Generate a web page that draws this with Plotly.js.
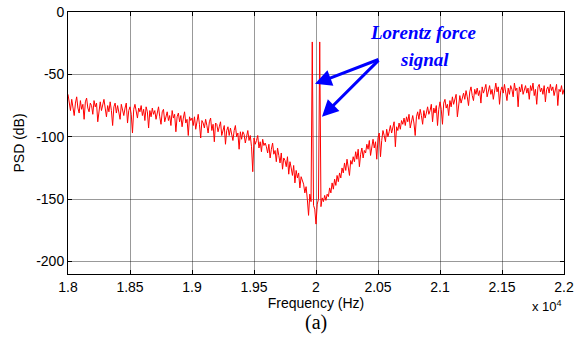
<!DOCTYPE html>
<html>
<head>
<meta charset="utf-8">
<script src="https://cdn.plot.ly/plotly-3.0.1.min.js"></script>
<style>html,body{margin:0;padding:0;background:#fff;}#chart{width:582px;height:348px;}</style>
</head>
<body>
<div id="chart"></div>
<script>
// Frequency grid (Hz)
const freqStart = 18000;
const freqStep = 10;
// PSD values (dB), one row per 100 Hz
const psd = [
-66,-72,-79,-70,-76,-83,-73,-68,-77,-81,
-71,-78,-74,-86,-72,-69,-77,-80,-73,-75,
-82,-71,-76,-73,-88,-78,-72,-79,-74,-70,
-77,-84,-75,-80,-72,-79,-91,-76,-73,-81,
-75,-80,-86,-74,-78,-83,-77,-73,-89,-79,
-76,-82,-97,-78,-74,-81,-85,-77,-80,-75,
-83,-78,-87,-76,-80,-93,-79,-84,-77,-82,
-79,-86,-81,-76,-84,-90,-80,-78,-88,-83,
-80,-87,-83,-91,-79,-85,-82,-96,-84,-81,
-88,-83,-92,-85,-80,-89,-86,-99,-84,-87,
-85,-91,-84,-94,-88,-82,-90,-101,-87,-89,
-93,-86,-91,-97,-88,-85,-95,-90,-104,-89,
-90,-96,-92,-88,-99,-94,-91,-106,-95,-92,
-99,-93,-97,-103,-95,-91,-100,-97,-110,-96,
-102,-96,-98,-105,-100,-95,-103,-99,-108,-128,
-101,-106,-103,-99,-109,-104,-112,-102,-107,-105,
-108,-113,-106,-117,-110,-105,-114,-111,-120,-109,
-115,-121,-113,-126,-117,-119,-124,-116,-130,-120,
-125,-131,-123,-137,-127,-133,-129,-141,-132,-136,
-138,-145,-140,-150,-163,-146,-152,-24,-155,-158,
-170,-154,-150,-24,-156,-149,-152,-147,-151,-146,
-148,-141,-145,-137,-142,-134,-139,-131,-136,-129,
-133,-125,-129,-121,-127,-118,-124,-131,-119,-122,
-116,-120,-112,-118,-110,-124,-114,-109,-117,-111,
-113,-106,-110,-103,-115,-107,-102,-109,-104,-118,
-101,-97,-116,-103,-95,-99,-104,-94,-100,-96,
-91,-97,-93,-88,-108,-92,-95,-89,-94,-87,
-90,-85,-91,-84,-88,-82,-93,-86,-83,-89,
-99,-84,-80,-86,-78,-83,-90,-79,-85,-81,
-76,-82,-79,-74,-88,-77,-81,-75,-91,-78,
-72,-78,-90,-73,-70,-77,-74,-83,-71,-76,
-68,-74,-70,-66,-84,-72,-67,-73,-69,-65,
-70,-63,-68,-75,-64,-60,-67,-71,-62,-66,
-61,-67,-63,-73,-60,-65,-62,-58,-68,-64,
-59,-66,-62,-70,-61,-57,-64,-60,-74,-63,
-60,-65,-58,-63,-71,-61,-66,-59,-62,-68,
-57,-63,-61,-76,-60,-64,-58,-66,-62,-59,
-65,-61,-70,-59,-63,-57,-67,-62,-74,-60,
-58,-64,-61,-66,-59,-72,-62,-60,-65,-58,
-63,-60,-67,-61,-58,-75,-62,-64,-59,-66,
-62
];
const freq = psd.map((v, i) => freqStart + i * freqStep);

const xTickVals = [18000, 18500, 19000, 19500, 20000, 20500, 21000, 21500, 22000];
const xTickText = ['1.8', '1.85', '1.9', '1.95', '2', '2.05', '2.1', '2.15', '2.2'];
const yTickVals = [0, -50, -100, -150, -200];
const yTickText = ['0', '-50', '-100', '-150', '-200'];

const trace = {
  x: freq, y: psd, type: 'scatter', mode: 'lines',
  line: {color: '#ff0000', width: 1}, hoverinfo: 'none'
};

const axisCommon = {
  showline: true, linecolor: '#000', linewidth: 1, mirror: 'ticks',
  ticks: 'inside', ticklen: 4, tickcolor: '#000',
  showgrid: true, gridcolor: 'rgba(0,0,0,0.4)', gridwidth: 1,
  zeroline: false,
  tickfont: {family: 'Liberation Sans, Arial, sans-serif', size: 14, color: '#000'}
};

const layout = {
  width: 582, height: 348,
  margin: {l: 68, r: 18, t: 12, b: 74},
  paper_bgcolor: '#fff', plot_bgcolor: '#fff',
  showlegend: false,
  xaxis: Object.assign({}, axisCommon, {
    range: [18000, 22000], tickvals: xTickVals, ticktext: xTickText,
    title: {text: 'Frequency (Hz)', standoff: 2, font: {family: 'Liberation Sans, Arial, sans-serif', size: 14, color: '#000'}}
  }),
  yaxis: Object.assign({}, axisCommon, {
    range: [-210, 0], tickvals: yTickVals, ticktext: yTickText,
    title: {text: 'PSD (dB)', standoff: 8, font: {family: 'Liberation Sans, Arial, sans-serif', size: 14, color: '#000'}}
  }),
  annotations: [
    {x: 19992, y: -57.6, ax: 20516, ay: -37.6, axref: 'x', ayref: 'y', xref: 'x', yref: 'y',
     showarrow: true, arrowhead: 2, arrowsize: 1.1, arrowwidth: 3, arrowcolor: '#0000ff', text: ''},
    {x: 20048, y: -84, ax: 20516, ay: -37.6, axref: 'x', ayref: 'y', xref: 'x', yref: 'y',
     showarrow: true, arrowhead: 2, arrowsize: 1.1, arrowwidth: 3, arrowcolor: '#0000ff', text: ''},
    {x: 20863, y: -16.8, xref: 'x', yref: 'y', showarrow: false,
     text: '<b><i>Lorentz force</i></b>',
     font: {family: 'Liberation Serif, Times New Roman, serif', size: 19, color: '#0000ff'}},
    {x: 20871, y: -38.4, xref: 'x', yref: 'y', showarrow: false,
     text: '<b><i>signal</i></b>',
     font: {family: 'Liberation Serif, Times New Roman, serif', size: 19, color: '#0000ff'}},
    {x: 1.0, y: -0.085, xref: 'paper', yref: 'paper', xanchor: 'right', yanchor: 'top', showarrow: false,
     text: 'x 10<sup>4</sup>',
     font: {family: 'Liberation Sans, Arial, sans-serif', size: 13, color: '#000'}},
    {x: 0.5, y: -0.187, xref: 'paper', yref: 'paper', xanchor: 'center', yanchor: 'middle', showarrow: false,
     text: '(a)',
     font: {family: 'Liberation Serif, Times New Roman, serif', size: 20, color: '#000'}}
  ]
};

Plotly.newPlot('chart', [trace], layout, {staticPlot: true, displayModeBar: false});
</script>
</body>
</html>
